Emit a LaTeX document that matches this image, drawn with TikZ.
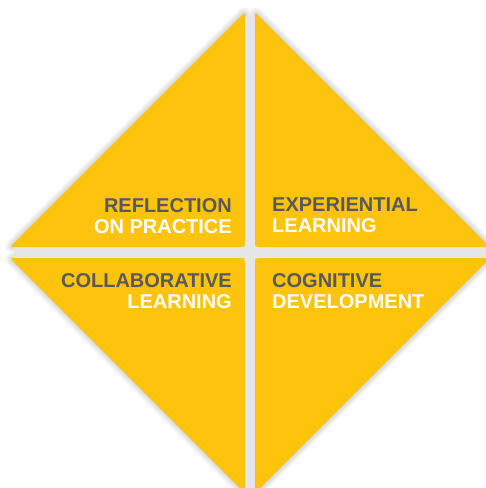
\documentclass[tikz,border=0pt]{standalone}
\usepackage{fontspec}
\setmainfont{Liberation Sans}
\usepackage{tikz}

\definecolor{quadyellow}{HTML}{FDC30D}
\definecolor{txtgray}{HTML}{58595B}
\definecolor{gapgray}{HTML}{E6E6E6}

\tikzset{
	quad/.style={fill=quadyellow, rounded corners=3pt},
	halo/.style={draw=black, line join=round, rounded corners=3pt},
	lbl/.style={inner sep=0pt, font=\fontsize{20}{21}\selectfont\bfseries}
}

\begin{document}
\begin{tikzpicture}[x=1pt,y=-1pt]
	\clip (0,0) rectangle (486,488);
	\fill[white] (0,0) rectangle (486,488);
	% soft shadow round the quarters
	\foreach \a/\b/\c in {{10,247}/{245,12}/{245,247},{255,12}/{490,247}/{255,247},{10,258}/{245,258}/{245,493},{255,258}/{490,258}/{255,493}}{
		\foreach \w in {12,9,6,3}{
			\draw[halo, line width=\w pt, opacity=0.035] (\a) -- (\b) -- (\c) -- cycle;
		}
	}
	% gaps
	\fill[gapgray] (245,16) rectangle (255,488);
	\fill[gapgray] (14,247) rectangle (486,258);
	% four quarters
	\foreach \a/\b/\c in {{10,247}/{245,12}/{245,247},{255,12}/{490,247}/{255,247},{10,258}/{245,258}/{245,493},{255,258}/{490,258}/{255,493}}{
		\fill[quad] (\a) -- (\b) -- (\c) -- cycle;
	}
%	\draw[color=gray,step=10] (0,0) grid (486,488);
	\node[lbl, anchor=north east, align=right] (refl) at (232,198) {\textcolor{txtgray}{REFLECTION}\\\textcolor{white}{ON PRACTICE}};
	\node[lbl, anchor=north west, align=left] (exper) at (272,198) {\textcolor{txtgray}{EXPERIENTIAL}\\\textcolor{white}{LEARNING}};
	\node[lbl, anchor=north east, align=right] (collab) at (232,273) {\textcolor{txtgray}{COLLABORATIVE}\\\textcolor{white}{LEARNING}};
	\node[lbl, anchor=north west, align=left] (cogn) at (272,273) {\textcolor{txtgray}{COGNITIVE}\\\textcolor{white}{DEVELOPMENT}};
\end{tikzpicture}
\end{document}
